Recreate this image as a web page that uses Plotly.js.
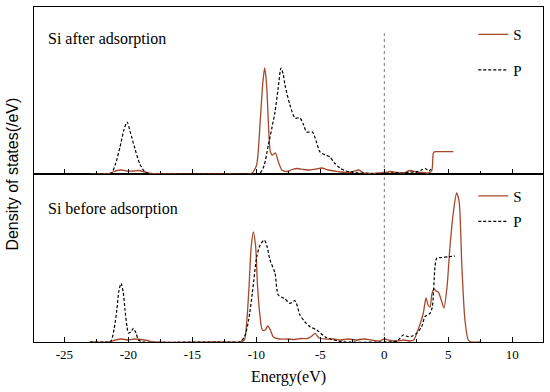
<!DOCTYPE html>
<html>
<head>
<meta charset="utf-8">
<script src="https://cdn.plot.ly/plotly-3.0.1.min.js"></script>
<style>html,body{margin:0;padding:0;background:#fff;}#chart{width:550px;height:392px;}</style>
</head>
<body>
<div id="chart"></div>
<script>
// ---- Data ----
// Si after adsorption, s-states
const afterS_E = [-23, -21.5, -20.9, -20.5, -20.1, -19.6, -19.2, -18.7, -18.2, -17, -12, -10.4, -10.0, -9.7, -9.5, -9.35, -9.2, -9.06, -8.9, -8.75, -8.5, -8.3, -8.0, -7.6, -7.2, -6.8, -6.3, -5.8, -5.3, -4.9, -4.4, -3.9, -3.4, -3.0, -2.5, -2.0, -1.6, -1.0, -0.5, 0, 0.5, 1.0, 1.5, 2.0, 2.5, 3.0, 3.4, 3.7, 3.83, 3.96, 4.5, 5.0, 5.4];
const afterS_D = [0, 0.05, 0.35, 0.4, 0.3, 0.3, 0.35, 0.2, 0.05, 0, 0, 0.05, 0.8, 5.2, 9.0, 10.6, 9.0, 5.2, 2.2, 1.9, 2.1, 1.3, 0.4, 0.25, 0.45, 0.55, 0.45, 0.4, 0.5, 0.6, 0.4, 0.3, 0.2, 0.15, 0.2, 0.4, 0.1, 0.05, 0.1, 0.15, 0.25, 0.15, 0.1, 0.35, 0.2, 0.15, 0.1, 0.3, 2.07, 2.23, 2.23, 2.23, 2.23];
// Si after adsorption, p-states
const afterP_E = [-23, -21.5, -21.3, -21.0, -20.65, -20.35, -20.1, -19.85, -19.5, -19.1, -18.7, -18.3, -16, -11, -10.0, -9.7, -9.4, -9.06, -8.8, -8.54, -8.3, -8.07, -7.9, -7.76, -7.37, -6.98, -6.59, -6.3, -6.07, -5.62, -5.3, -5.02, -4.6, -4.24, -3.9, -3.46, -3.0, -2.55, -2.0, -1.5, -1.0, 0, 0.5, 1.0, 1.5, 2.0, 2.5, 2.9, 3.2, 3.5, 3.7];
const afterP_D = [0, 0, 0.1, 1.0, 2.7, 4.4, 5.2, 4.2, 2.6, 1.0, 0.2, 0, 0, 0, 0, 0.1, 0.8, 2.9, 4.5, 6.2, 8.5, 10.6, 10.0, 8.9, 6.9, 5.6, 5.6, 4.9, 4.2, 4.2, 3.2, 2.2, 1.9, 1.7, 1.1, 0.6, 0.3, 0.2, 0.1, 0.1, 0.05, 0.05, 0.1, 0.15, 0.1, 0.2, 0.2, 0.4, 0.55, 0.3, 0.6];
// Si before adsorption, s-states
const beforeS_E = [-23, -21.5, -21, -20.5, -20, -19.5, -19, -18.5, -18, -13, -11.3, -10.94, -10.75, -10.57, -10.4, -10.23, -10.05, -9.9, -9.7, -9.53, -9.3, -9.11, -8.9, -8.67, -8.2, -7.5, -7, -6.5, -6, -5.67, -5.41, -5.1, -4.6, -4.0, -3.4, -2.8, -2.2, -1.6, -1.0, -0.4, 0, 0.5, 1.0, 1.5, 2.0, 2.3, 2.53, 2.8, 3.05, 3.26, 3.42, 3.57, 3.72, 3.88, 4.05, 4.22, 4.45, 4.66, 4.9, 5.13, 5.4, 5.65, 5.85, 6.05, 6.3, 6.56, 6.8, 7.5];
const beforeS_D = [0, 0, 0.2, 0.3, 0.2, 0.3, 0.25, 0.15, 0, 0, 0, 0.2, 2.0, 5.5, 9.5, 11.0, 9.5, 5.5, 2.5, 1.2, 1.2, 1.6, 1.2, 0.5, 0.3, 0.3, 0.25, 0.35, 0.35, 0.6, 0.87, 0.4, 0.3, 0.3, 0.2, 0.3, 0.2, 0.3, 0.2, 0.1, 0.3, 0.15, 0.1, 0.2, 0.1, 0.2, 0.87, 1.8, 2.9, 4.4, 3.7, 3.5, 4.8, 5.3, 5.1, 5.0, 4.2, 3.4, 5.5, 9.5, 13.0, 14.9, 14.0, 7.9, 2.2, 0.2, 0, 0];
// Si before adsorption, p-states
const beforeP_E = [-23, -21.6, -21.35, -21.1, -20.9, -20.75, -20.57, -20.4, -20.26, -20.1, -20.0, -19.8, -19.6, -19.4, -19.2, -18.8, -15, -12, -11.27, -10.9, -10.6, -10.3, -9.97, -9.7, -9.37, -9.15, -8.93, -8.54, -8.28, -7.76, -7.37, -6.98, -6.59, -6.2, -5.8, -5.28, -4.63, -4.1, -3.6, -3.0, 0, 1.0, 1.48, 1.88, 2.2, 2.53, 2.92, 3.18, 3.57, 3.75, 3.96, 4.09, 4.5, 5.0, 5.52];
const beforeP_D = [0, 0, 0.1, 1.4, 3.2, 5.0, 5.87, 5.0, 3.2, 1.5, 0.9, 1.0, 1.37, 0.9, 0.2, 0, 0, 0, 0, 0.6, 2.2, 5.0, 8.5, 9.7, 10.2, 9.5, 8.2, 6.87, 4.7, 4.3, 3.87, 4.13, 2.7, 2.0, 1.53, 1.2, 0.53, 0.25, 0.1, 0, 0, 0.1, 0.7, 0.53, 0.6, 0.87, 1.53, 2.53, 2.87, 3.5, 7.5, 8.37, 8.45, 8.52, 8.6];

const seriesNames = ['S', 'P'];
const panelLabels = ['Si after adsorption', 'Si before adsorption'];
const xTicks = [-25, -20, -15, -10, -5, 0, 5, 10];

// ---- Styles ----
const sColor = '#a4492a';
const serif = 'Liberation Serif';
const sans = 'Liberation Sans';
const sLine = {color: sColor, width: 1.3, shape: 'spline', smoothing: 0.7};
const pLine = {color: '#000', width: 1.2, dash: '3px,2px', shape: 'spline', smoothing: 0.7};

const traces = [
  {x: afterS_E, y: afterS_D, xaxis: 'x2', yaxis: 'y2', mode: 'lines', name: seriesNames[0], line: sLine, legend: 'legend', legendgroup: 'a1'},
  {x: afterP_E, y: afterP_D, xaxis: 'x2', yaxis: 'y2', mode: 'lines', name: seriesNames[1], line: pLine, legend: 'legend', legendgroup: 'a2'},
  {x: beforeS_E, y: beforeS_D, xaxis: 'x', yaxis: 'y', mode: 'lines', name: seriesNames[0], line: sLine, legend: 'legend2', legendgroup: 'b1'},
  {x: beforeP_E, y: beforeP_D, xaxis: 'x', yaxis: 'y', mode: 'lines', name: seriesNames[1], line: pLine, legend: 'legend2', legendgroup: 'b2'}
];

const split = 168 / 335;
const xRange = [-27.37, 12.4];
const axCommon = {showgrid: false, zeroline: false, showline: true, linecolor: '#000', linewidth: 1.3, mirror: true};

const layout = {
  width: 550, height: 392,
  margin: {l: 34, r: 7, t: 7, b: 50},
  paper_bgcolor: '#fff', plot_bgcolor: '#fff',
  font: {family: serif, color: '#000', size: 13},
  xaxis: Object.assign({}, axCommon, {
    anchor: 'y', range: xRange, tickvals: xTicks, ticktext: xTicks.map(String),
    ticks: 'inside', ticklen: 5, tickwidth: 1.3, tickcolor: '#000',
    minor: {dtick: 2.5, tick0: 0, ticks: 'inside', ticklen: 3, tickwidth: 1.2, tickcolor: '#000', showgrid: false},
    tickfont: {family: serif, size: 13, color: '#000'},
    title: {text: 'Energy(eV)', font: {family: serif, size: 16, color: '#000'}, standoff: 10}
  }),
  xaxis2: Object.assign({}, axCommon, {
    anchor: 'y2', matches: 'x', range: xRange, tickvals: xTicks, showticklabels: false,
    ticks: 'inside', ticklen: 5, tickwidth: 1.3, tickcolor: '#000',
    minor: {dtick: 2.5, tick0: 0, ticks: 'inside', ticklen: 3, tickwidth: 1.2, tickcolor: '#000', showgrid: false}
  }),
  yaxis: Object.assign({}, axCommon, {domain: [0, split], range: [0, 16.8], showticklabels: false, ticks: ''}),
  yaxis2: Object.assign({}, axCommon, {domain: [split, 1], range: [0, 16.7], showticklabels: false, ticks: ''}),
  legend: {x: 0.863, y: 0.967, xanchor: 'left', yanchor: 'top', bgcolor: 'rgba(0,0,0,0)', font: {family: serif, size: 15}, tracegroupgap: 13, itemwidth: 30},
  legend2: {x: 0.863, y: 0.485, xanchor: 'left', yanchor: 'top', bgcolor: 'rgba(0,0,0,0)', font: {family: serif, size: 15}, tracegroupgap: 3, itemwidth: 30},
  shapes: [
    {type: 'line', xref: 'x', yref: 'paper', x0: 0, x1: 0, y0: 0, y1: 0.922, line: {color: '#777', width: 1, dash: 'dot'}, layer: 'below'}
  ],
  annotations: [
    {xref: 'paper', yref: 'paper', x: 0.023, y: 0.905, xanchor: 'left', yanchor: 'middle', text: panelLabels[0], showarrow: false, font: {family: serif, size: 16, color: '#000'}},
    {xref: 'paper', yref: 'paper', x: 0.023, y: 0.397, xanchor: 'left', yanchor: 'middle', text: panelLabels[1], showarrow: false, font: {family: serif, size: 16, color: '#000'}},
    {xref: 'paper', yref: 'paper', x: -0.043, y: 0.5, xanchor: 'center', yanchor: 'middle', textangle: -90, text: 'Density of states(/eV)', showarrow: false, font: {family: sans, size: 16, color: '#000'}}
  ]
};

Plotly.newPlot('chart', traces, layout, {displayModeBar: false, staticPlot: true});
</script>
</body>
</html>
